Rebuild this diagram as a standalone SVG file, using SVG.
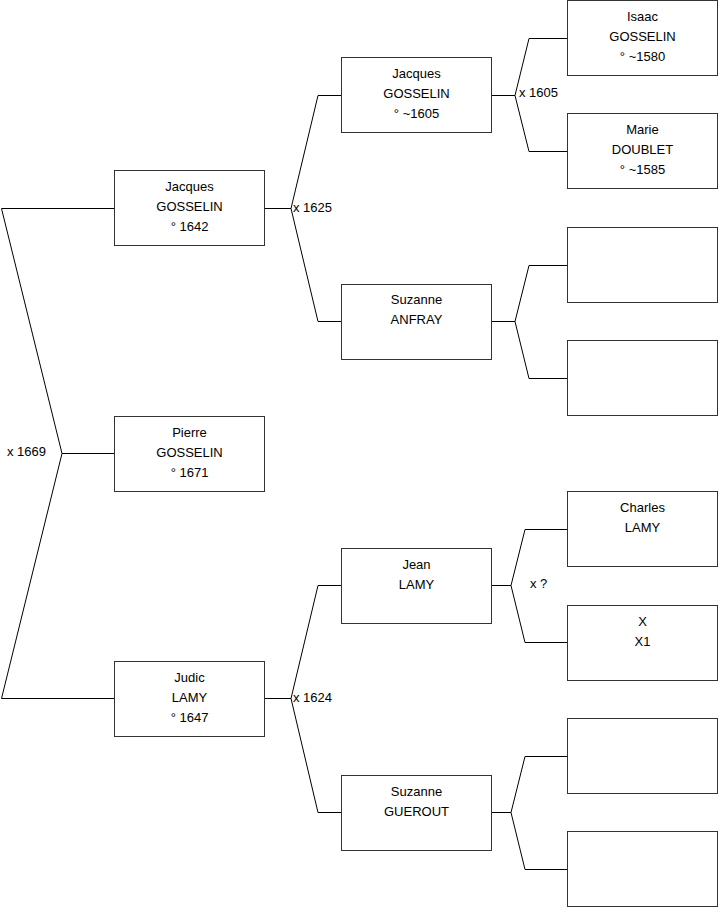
<svg xmlns="http://www.w3.org/2000/svg" width="719" height="908" viewBox="0 0 719 908">
<style>
.box{fill:#fff;stroke:#333;stroke-width:1}
.t{font-family:"Liberation Sans",Arial,sans-serif;font-size:13px;fill:#000;text-anchor:middle}
.l{font-family:"Liberation Sans",Arial,sans-serif;font-size:13px;fill:#000}
.c{fill:none;stroke:#000;stroke-width:1}
</style>
<rect width="719" height="908" fill="#fff"/>
<g id="connectors">
<path class="c" d="M114,208.5H1.5L62,453.5L1.5,698.5H114M62,453.5H114"/>
<path class="c" d="M265,208.5H291L318,95.5H341M291,208.5L318,321.5H341"/>
<path class="c" d="M265,698.5H291L318,585.5H341M291,698.5L318,812.5H341"/>
<path class="c" d="M492,95.5H515L529,38.5H567M515,95.5L529,151.5H567"/>
<path class="c" d="M492,321.5H515L529,265.5H567M515,321.5L529,378.5H567"/>
<path class="c" d="M492,585.5H511L525,529.5H567M511,585.5L525,642.5H567"/>
<path class="c" d="M492,812.5H511L525,756.5H567M511,812.5L525,869.5H567"/>
<text class="l" x="7" y="456">x 1669</text>
<text class="l" x="293" y="212">x 1625</text>
<text class="l" x="293" y="702">x 1624</text>
<text class="l" x="519" y="97">x 1605</text>
<text class="l" x="530" y="588">x ?</text>
</g>
<g id="n-pierre"><rect class="box" x="114.5" y="416.5" width="150" height="75"/><text class="t" x="189.5" y="437">Pierre</text><text class="t" x="189.5" y="457">GOSSELIN</text><text class="t" x="189.5" y="477">° 1671</text></g>
<g id="n-jacques1642"><rect class="box" x="114.5" y="170.5" width="150" height="75"/><text class="t" x="189.5" y="191">Jacques</text><text class="t" x="189.5" y="211">GOSSELIN</text><text class="t" x="189.5" y="231">° 1642</text></g>
<g id="n-judic"><rect class="box" x="114.5" y="661.5" width="150" height="75"/><text class="t" x="189.5" y="682">Judic</text><text class="t" x="189.5" y="702">LAMY</text><text class="t" x="189.5" y="722">° 1647</text></g>
<g id="n-jacques1605"><rect class="box" x="341.5" y="57.5" width="150" height="75"/><text class="t" x="416.5" y="78">Jacques</text><text class="t" x="416.5" y="98">GOSSELIN</text><text class="t" x="416.5" y="118">° ~1605</text></g>
<g id="n-suzanne-anfray"><rect class="box" x="341.5" y="284.5" width="150" height="75"/><text class="t" x="416.5" y="304">Suzanne</text><text class="t" x="416.5" y="324">ANFRAY</text></g>
<g id="n-jean-lamy"><rect class="box" x="341.5" y="548.5" width="150" height="75"/><text class="t" x="416.5" y="569">Jean</text><text class="t" x="416.5" y="589">LAMY</text></g>
<g id="n-suzanne-guerout"><rect class="box" x="341.5" y="775.5" width="150" height="75"/><text class="t" x="416.5" y="796">Suzanne</text><text class="t" x="416.5" y="816">GUEROUT</text></g>
<g id="n-isaac"><rect class="box" x="567.5" y="0.5" width="150" height="75"/><text class="t" x="642.5" y="21">Isaac</text><text class="t" x="642.5" y="41">GOSSELIN</text><text class="t" x="642.5" y="61">° ~1580</text></g>
<g id="n-marie"><rect class="box" x="567.5" y="113.5" width="150" height="75"/><text class="t" x="642.5" y="134">Marie</text><text class="t" x="642.5" y="154">DOUBLET</text><text class="t" x="642.5" y="174">° ~1585</text></g>
<g id="n-empty1"><rect class="box" x="567.5" y="227.5" width="150" height="75"/></g>
<g id="n-empty2"><rect class="box" x="567.5" y="340.5" width="150" height="75"/></g>
<g id="n-charles"><rect class="box" x="567.5" y="491.5" width="150" height="75"/><text class="t" x="642.5" y="512">Charles</text><text class="t" x="642.5" y="532">LAMY</text></g>
<g id="n-x"><rect class="box" x="567.5" y="605.5" width="150" height="75"/><text class="t" x="642.5" y="626">X</text><text class="t" x="642.5" y="646">X1</text></g>
<g id="n-empty3"><rect class="box" x="567.5" y="718.5" width="150" height="75"/></g>
<g id="n-empty4"><rect class="box" x="567.5" y="831.5" width="150" height="75"/></g>
</svg>
